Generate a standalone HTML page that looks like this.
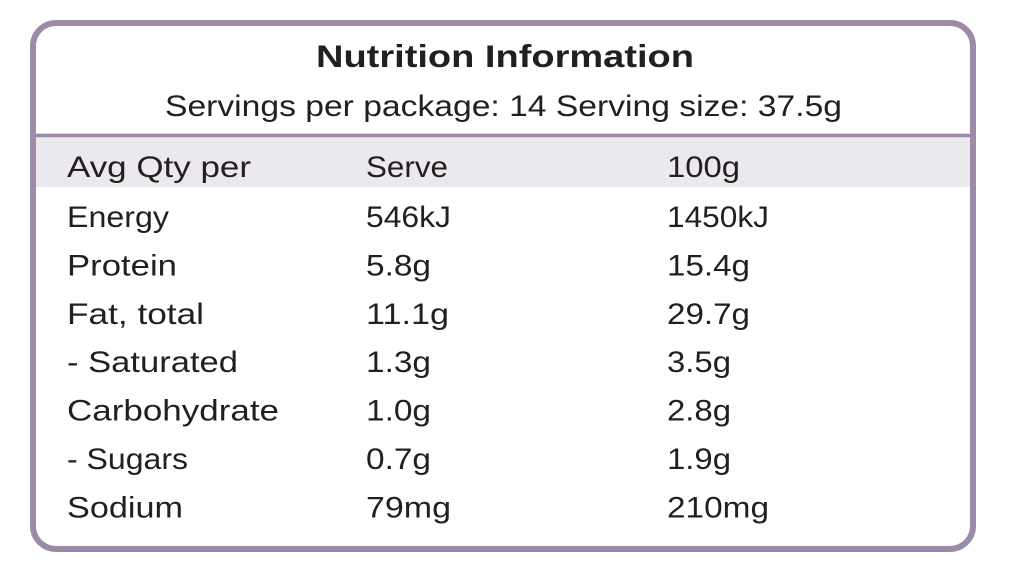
<!DOCTYPE html>
<html>
<head>
<meta charset="utf-8">
<style>
  html, body { margin:0; padding:0; background:#ffffff; }
  body { width:1016px; height:580px; overflow:hidden; }
  svg { display:block; }
  text { font-family:"Liberation Sans", Arial, sans-serif; fill:#231f20; }
  .r { font-size:29.5px; }
</style>
</head>
<body>
<svg width="1016" height="580" viewBox="0 0 1016 580" xmlns="http://www.w3.org/2000/svg">
  <rect x="0" y="0" width="1016" height="580" fill="#ffffff"/>
  <!-- header band -->
  <rect x="35" y="137" width="939" height="50" fill="#ebe8ee"/>
  <!-- separator -->
  <rect x="33" y="133.7" width="941" height="3.5" fill="#9d8aa7"/>
  <!-- outer rounded border -->
  <rect x="33" y="23" width="940" height="526" rx="23" ry="23" fill="none" stroke="#9d8aa7" stroke-width="6"/>

  <text x="316" y="67" font-size="31.5" font-weight="bold" textLength="378" lengthAdjust="spacingAndGlyphs">Nutrition Information</text>
  <text class="r" x="165" y="116" textLength="677" lengthAdjust="spacingAndGlyphs">Servings per package: 14 Serving size: 37.5g</text>

  <text class="r" x="67" y="177" textLength="184" lengthAdjust="spacingAndGlyphs">Avg Qty per</text>
  <text class="r" x="366" y="177" textLength="82" lengthAdjust="spacingAndGlyphs">Serve</text>
  <text class="r" x="667" y="177" textLength="73" lengthAdjust="spacingAndGlyphs">100g</text>

  <text class="r" x="67" y="227" textLength="102" lengthAdjust="spacingAndGlyphs">Energy</text>
  <text class="r" x="366" y="227" textLength="85" lengthAdjust="spacingAndGlyphs">546kJ</text>
  <text class="r" x="667" y="227" textLength="102" lengthAdjust="spacingAndGlyphs">1450kJ</text>

  <text class="r" x="67" y="275.5" textLength="110" lengthAdjust="spacingAndGlyphs">Protein</text>
  <text class="r" x="366" y="275.5" textLength="65" lengthAdjust="spacingAndGlyphs">5.8g</text>
  <text class="r" x="667" y="275.5" textLength="83" lengthAdjust="spacingAndGlyphs">15.4g</text>

  <text class="r" x="67" y="324" textLength="137" lengthAdjust="spacingAndGlyphs">Fat, total</text>
  <text class="r" x="366" y="324" textLength="83" lengthAdjust="spacingAndGlyphs">11.1g</text>
  <text class="r" x="667" y="324" textLength="83" lengthAdjust="spacingAndGlyphs">29.7g</text>

  <text class="r" x="67" y="372" textLength="171" lengthAdjust="spacingAndGlyphs">- Saturated</text>
  <text class="r" x="366" y="372" textLength="65" lengthAdjust="spacingAndGlyphs">1.3g</text>
  <text class="r" x="667" y="372" textLength="64" lengthAdjust="spacingAndGlyphs">3.5g</text>

  <text class="r" x="67" y="420.5" textLength="212" lengthAdjust="spacingAndGlyphs">Carbohydrate</text>
  <text class="r" x="366" y="420.5" textLength="65" lengthAdjust="spacingAndGlyphs">1.0g</text>
  <text class="r" x="667" y="420.5" textLength="64" lengthAdjust="spacingAndGlyphs">2.8g</text>

  <text class="r" x="67" y="469" textLength="121" lengthAdjust="spacingAndGlyphs">- Sugars</text>
  <text class="r" x="366" y="469" textLength="65" lengthAdjust="spacingAndGlyphs">0.7g</text>
  <text class="r" x="667" y="469" textLength="64" lengthAdjust="spacingAndGlyphs">1.9g</text>

  <text class="r" x="67" y="517.5" textLength="116" lengthAdjust="spacingAndGlyphs">Sodium</text>
  <text class="r" x="366" y="517.5" textLength="85" lengthAdjust="spacingAndGlyphs">79mg</text>
  <text class="r" x="667" y="517.5" textLength="102" lengthAdjust="spacingAndGlyphs">210mg</text>
</svg>
</body>
</html>
